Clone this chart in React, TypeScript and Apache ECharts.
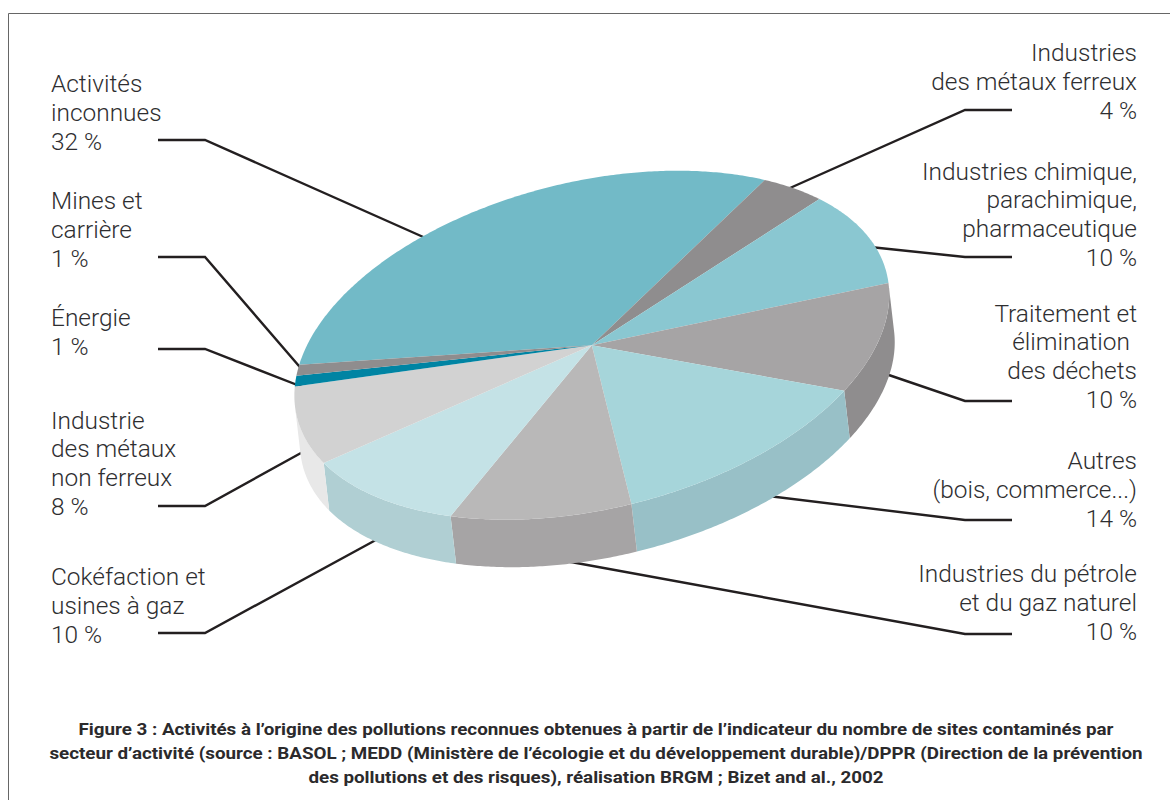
import React, { useEffect, useRef } from "react";
import * as echarts from "echarts";

// ---- data (clockwise, from the left edge of the pie) ----
const categories = [
  "Activités\ninconnues",
  "Industries\ndes métaux ferreux",
  "Industries chimique,\nparachimique,\npharmaceutique",
  "Traitement et\nélimination\ndes déchets",
  "Autres\n(bois, commerce...)",
  "Industries du pétrole\net du gaz naturel",
  "Cokéfaction et\nusines à gaz",
  "Industrie\ndes métaux\nnon ferreux",
  "Énergie",
  "Mines et\ncarrière",
];
const values = [32, 4, 10, 10, 14, 10, 10, 8, 1, 1];
const caption = [
  "Figure 3 : Activités à l’origine des pollutions reconnues obtenues à partir de l’indicateur du nombre de sites contaminés par",
  "secteur d’activité (source : BASOL ; MEDD (Ministère de l’écologie et du développement durable)/DPPR (Direction de la prévention",
  "des pollutions et des risques), réalisation BRGM ; Bizet and al., 2002",
];

// ---- styles and layout ----
const topColors = ["#72BAC7", "#8F8D8E", "#8AC7D1", "#A6A4A5", "#A6D5DA", "#B9B8B8", "#C4E2E6", "#D2D2D2", "#0084A3", "#8F8D8E"];
const sideColors = ["#72BAC7", "#8F8D8E", "#8AC7D1", "#8F8D8E", "#98C0C7", "#A6A4A5", "#B0CFD3", "#E8E8E8", "#0084A3", "#8F8D8E"];
const sides = ["left", "right", "right", "right", "right", "right", "left", "left", "left", "left"];
const lastLineY = [142, 111, 258, 400, 519, 632, 635, 507, 347, 259];
const lineShift: Record<string, number> = { "élimination": -7 };
const leaders = [
  [[158, 140], [205, 140], [430, 240]],
  [[1012, 110], [965, 110], [790, 188]],
  [[1012, 257], [965, 257], [870, 247]],
  [[1012, 401], [965, 401], [880, 372]],
  [[1012, 520], [965, 520], [760, 495]],
  [[1012, 634], [965, 634], [560, 560]],
  [[158, 633], [205, 633], [385, 535]],
  [[158, 506], [205, 506], [310, 448]],
  [[158, 349], [205, 349], [305, 388]],
  [[158, 257], [205, 257], [305, 373]],
];
const CX = 591.8;
const CY = 345.2;
const U = [-292.6, 19.6];
const V = [53.4, -173.4];
const DEPTH = [5.5, 47.5];
const TEXT = "#2E2E30";
const FONT = "Roboto";

const total = values.reduce((a, b) => a + b, 0);
const cum: number[] = [];
values.reduce((a, v, i) => ((cum[i] = a), a + v), 0);
const angle = (v: number) => (v / total) * 2 * Math.PI;
const pt = (t: number, dx = 0, dy = 0) => [
  CX + U[0] * Math.cos(t) + V[0] * Math.sin(t) + dx,
  CY + U[1] * Math.cos(t) + V[1] * Math.sin(t) + dy,
];
const arc = (a: number, b: number, dx = 0, dy = 0) => {
  const n = Math.max(2, Math.ceil((b - a) / 0.01));
  const out: number[][] = [];
  for (let i = 0; i <= n; i++) out.push(pt(a + ((b - a) * i) / n, dx, dy));
  return out;
};
// The outer wall faces the viewer between these two parameters.
const crossU = U[0] * DEPTH[1] - U[1] * DEPTH[0];
const crossV = V[0] * DEPTH[1] - V[1] * DEPTH[0];
const wallA = Math.atan2(-crossV, -crossU) + Math.PI;
const wallB = wallA + Math.PI;

function labelElements() {
  const els: any[] = [];
  categories.forEach((c, i) => {
    const lines = [...c.split("\n"), `${values[i]} %`];
    lines.forEach((line, k) => {
      const left = sides[i] === "left";
      els.push({
        type: "text",
        x: (left ? 51 : 1137) + (lineShift[line] ?? 0),
        y: lastLineY[i] - (lines.length - 1 - k) * 28.7,
        scaleX: 1.04,
        z: 5,
        style: {
          text: line,
          fill: TEXT,
          font: `300 23.5px ${FONT}`,
          textAlign: left ? "left" : "right",
          textVerticalAlign: "middle",
        },
      });
    });
  });
  return els;
}

export default function App() {
  const ref = useRef<HTMLDivElement>(null);
  useEffect(() => {
    const chart = echarts.init(ref.current!, undefined, { renderer: "svg" });
    const data = values.map((v, i) => [v, i]);
    chart.setOption({
      animation: false,
      backgroundColor: "#FFFFFF",
      series: [
        {
          type: "custom",
          coordinateSystem: "none",
          silent: true,
          z: 2,
          data,
          renderItem: (_p: any, api: any) => {
            const i = api.value(1);
            const a = Math.max(angle(cum[i]), wallA);
            const b = Math.min(angle(cum[i] + api.value(0)), wallB);
            if (b <= a) return { type: "group", children: [] };
            const points = [...arc(a, b), ...arc(a, b, DEPTH[0], DEPTH[1]).reverse()];
            return { type: "polygon", shape: { points }, style: { fill: sideColors[i], stroke: "none" } };
          },
        },
        {
          type: "custom",
          coordinateSystem: "none",
          silent: true,
          z: 3,
          data,
          renderItem: (_p: any, api: any) => {
            const i = api.value(1);
            const a = angle(cum[i]);
            const b = angle(cum[i] + api.value(0));
            const points = [[CX, CY], ...arc(a, b)];
            return { type: "polygon", shape: { points }, style: { fill: topColors[i], stroke: "none" } };
          },
        },
      ],
      graphic: {
        elements: [
          {
            type: "polyline",
            z: 0,
            shape: { points: [[8.5, 800], [8.5, 13.5], [1170, 13.5]] },
            style: { stroke: "#666666", lineWidth: 1, fill: "none" },
          },
          ...leaders.map((points) => ({
            type: "polyline",
            z: 1,
            shape: { points },
            style: { stroke: "#231F20", lineWidth: 2.4, fill: "none" },
          })),
          ...labelElements(),
          ...caption.map((line, k) => ({
            type: "text",
            x: 596,
            y: [729, 753, 777][k],
            scaleX: 1.105,
            z: 5,
            style: {
              text: line,
              fill: "#2B2A2C",
              font: `700 17px ${FONT}`,
              textAlign: "center",
              textVerticalAlign: "middle",
            },
          })),
        ],
      },
    });
    return () => chart.dispose();
  }, []);
  return <div ref={ref} style={{ position: "fixed", left: 0, top: 0, width: 1170, height: 800 }} />;
}
